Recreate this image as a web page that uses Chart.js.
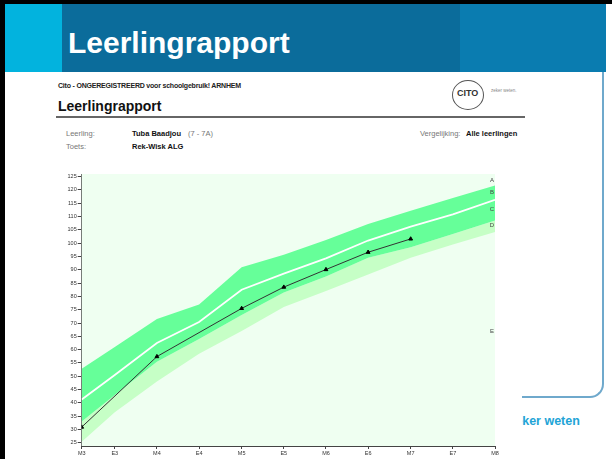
<!DOCTYPE html>
<html>
<head>
<meta charset="utf-8">
<script src="https://cdn.jsdelivr.net/npm/chart.js@4.4.0/dist/chart.umd.min.js"></script>
<style>
body { margin: 0; width: 612px; height: 459px; overflow: hidden; background: #fff; position: relative; font-family: "Liberation Sans", Arial, sans-serif; }
div, span { position: absolute; }
#frameTop { left: 0; top: 0; width: 612px; height: 4px; background: #000; }
#frameLeft { left: 0; top: 0; width: 5px; height: 459px; background: #000; }
#hdr { left: 5px; top: 4px; width: 601px; height: 68px;
  background: linear-gradient(to right, #02b3de 0, #02b3de 57px, #0b6c9b 57px, #0b6c9b 455px, #0a7cb0 455px); }
#hdrTitle { left: 68px; top: 26px; color: #fff; font-weight: bold; font-size: 30px; }
#outline { left: 300px; top: 72px; width: 302px; height: 324px; border-right: 2px solid #6fa9cc; border-bottom: 2px solid #6fa9cc; border-bottom-right-radius: 14px; }
#zeker { left: 509px; top: 414px; color: #22a4d6; font-weight: bold; font-size: 12.5px; }
#report { left: 45px; top: 74px; width: 477px; height: 385px; background: #fff; }
.sm { font-size: 7px; color: #222; white-space: nowrap; }
.lbl { font-size: 7.5px; color: #777; white-space: nowrap; }
.val { font-size: 7.5px; color: #111; font-weight: bold; white-space: nowrap; }
#rule { left: 56px; top: 116px; width: 469px; height: 2px; background: #666; }
#logo { left: 452px; top: 80px; width: 30px; height: 28px; border: 1.5px solid #555; border-radius: 50%; }
#logoTxt { left: 457px; top: 88px; font-size: 9px; font-weight: bold; color: #333; }
#chartBox { left: 40px; top: 165px; width: 470px; height: 294px; }
</style>
</head>
<body>
<div id="frameTop"></div>
<div id="hdr"></div>
<div id="frameLeft"></div>
<span id="hdrTitle">Leerlingrapport</span>
<div id="outline"></div>
<span id="zeker">zeker weten</span>
<div id="report"></div>

<span class="sm" style="left:58px;top:82px;font-weight:bold;letter-spacing:-0.2px;">Cito - ONGEREGISTREERD voor schoolgebruik! ARNHEM</span>
<span style="left:58px;top:98px;font-size:14px;font-weight:bold;color:#111;">Leerlingrapport</span>
<div id="rule"></div>
<div id="logo"></div>
<span id="logoTxt">CITO</span>
<span style="left:491px;top:88px;font-size:4.5px;color:#888;">zeker weten.</span>

<span class="lbl" style="left:66px;top:129px;">Leerling:</span>
<span class="val" style="left:132px;top:129px;">Tuba Baadjou</span>
<span class="lbl" style="left:188px;top:129px;">(7 - 7A)</span>
<span class="lbl" style="left:66px;top:142px;">Toets:</span>
<span class="val" style="left:132px;top:142px;">Rek-Wisk ALG</span>
<span class="lbl" style="left:420px;top:129px;">Vergelijking:</span>
<span class="val" style="left:466px;top:129px;">Alle leerlingen</span>

<div id="chartBox"><canvas id="rapport" width="470" height="294"></canvas></div>

<script>
// meetmomenten (M = midden, E = eind van het leerjaar)
var momenten = ["M3", "E3", "M4", "E4", "M5", "E5", "M6", "E6", "M7", "E7", "M8"];
var momentPos = [0, 0.8, 1.82, 2.84, 3.87, 4.89, 5.91, 6.93, 7.96, 8.98, 10];

// niveaugrenzen A/B, B/C (mediaan), C/D, D/E
var grensAB = [52.8, 61, 71.5, 77, 91, 95.7, 101.2, 107.2, 112.2, 117, 121.7];
var grensBC = [41.3, 50.5, 62.5, 70.4, 82.5, 88.6, 94.3, 101, 106.2, 110.8, 116.3];
var grensCD = [33, 43, 55.5, 64, 73, 81.5, 87.5, 94.5, 98.5, 103.5, 108.5];
var grensDE = [25.4, 36.5, 48, 58.5, 67, 76, 82, 88.2, 94.5, 99.5, 104.2];

// scores van de leerling
var leerlingMoment = ["M3", "M4", "M5", "E5", "M6", "E6", "M7"];
var leerlingScore = [30.9, 57.4, 75.5, 83.5, 90.1, 96.6, 101.6];

var niveaus = ["A", "B", "C", "D", "E"];
var niveauY = [123.8, 119.1, 112.6, 106.8, 67];

var yTicks = [];
for (var t = 25; t <= 125; t += 2.5) yTicks.push(t);

function punten(waarden) {
    return waarden.map(function(v, i) {
        return { x: momentPos[i], y: v };
    });
}

var leerlingData = leerlingScore.map(function(v, i) {
    return { x: momentPos[momenten.indexOf(leerlingMoment[i])], y: v };
});

var achtergrond = {
    id: "achtergrond",
    beforeDatasetsDraw: function(chart) {
        var a = chart.chartArea, ctx = chart.ctx;
        ctx.save();
        ctx.fillStyle = "#effff1";
        ctx.fillRect(a.left, a.top, a.right - a.left, a.bottom - a.top);
        ctx.restore();
    }
};

var niveauLabels = {
    id: "niveauLabels",
    afterDatasetsDraw: function(chart) {
        var ctx = chart.ctx, y = chart.scales.y, a = chart.chartArea;
        ctx.save();
        ctx.font = "6px 'Liberation Sans', Arial";
        ctx.fillStyle = "#444";
        ctx.textAlign = "center";
        ctx.textBaseline = "middle";
        niveaus.forEach(function(n, i) {
            ctx.fillText(n, a.right - 3, y.getPixelForValue(niveauY[i]));
        });
        ctx.restore();
    }
};

new Chart(document.getElementById("rapport").getContext("2d"), {
    type: "line",
    data: {
        datasets: [
            { data: punten(grensDE), order: 5, borderWidth: 0, pointRadius: 0, fill: false },
            { data: punten(grensCD), order: 4, borderWidth: 0, pointRadius: 0, fill: "-1", backgroundColor: "#c6ffc6" },
            { data: punten(grensAB), order: 3, borderWidth: 0, pointRadius: 0, fill: "-1", backgroundColor: "#66ff99" },
            { data: punten(grensBC), order: 2, borderColor: "#ffffff", borderWidth: 1.8, pointRadius: 0, fill: false },
            {
                data: leerlingData,
                order: 1,
                borderColor: "#333",
                borderWidth: 1,
                pointStyle: "triangle",
                pointRadius: 2.2,
                pointBackgroundColor: "#000",
                pointBorderColor: "#000",
                fill: false
            }
        ]
    },
    options: {
        responsive: false,
        animation: false,
        layout: { padding: { top: 9, right: 15, left: 0, bottom: 0 } },
        plugins: { legend: { display: false }, tooltip: { enabled: false } },
        elements: { line: { tension: 0 } },
        scales: {
            x: {
                type: "linear",
                min: 0,
                max: 10,
                afterBuildTicks: function(scale) {
                    scale.ticks = momentPos.map(function(p) { return { value: p }; });
                },
                afterFit: function(scale) { scale.height = 13; },
                ticks: {
                    autoSkip: false,
                    maxRotation: 0,
                    padding: 1,
                    color: "#333",
                    font: { size: 5.5, family: "'Liberation Sans', Arial" },
                    callback: function(v, i) { return momenten[i]; }
                },
                grid: { drawOnChartArea: false, drawTicks: true, tickLength: 3, color: "#444" },
                border: { display: true, color: "#444", width: 1 }
            },
            y: {
                min: 23.8,
                max: 126,
                afterBuildTicks: function(scale) {
                    scale.ticks = yTicks.map(function(v) { return { value: v }; });
                },
                afterFit: function(scale) { scale.width = 41.7; },
                ticks: {
                    padding: 1,
                    color: "#333",
                    font: { size: 5.5, family: "'Liberation Sans', Arial" },
                    callback: function(v) { return v % 5 === 0 ? v : ""; }
                },
                grid: { drawOnChartArea: false, drawTicks: true, tickLength: 4, color: "#444" },
                border: { display: true, color: "#444", width: 1 }
            }
        }
    },
    plugins: [achtergrond, niveauLabels]
});
</script>
</body>
</html>
